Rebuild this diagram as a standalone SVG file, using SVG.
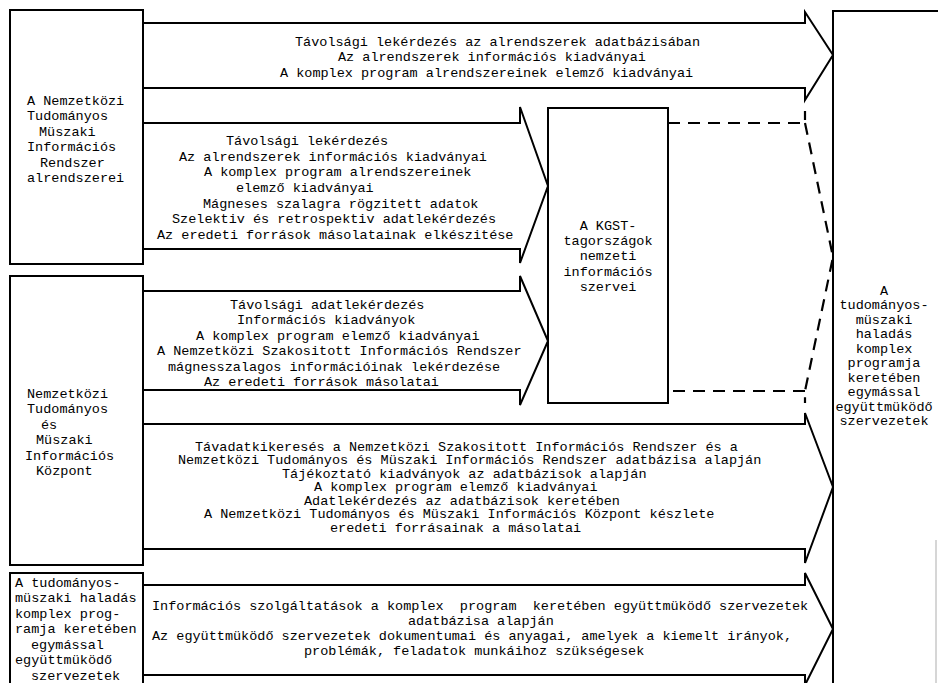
<svg xmlns="http://www.w3.org/2000/svg" width="938" height="683" viewBox="0 0 938 683">
<style>
.box{fill:none;stroke:#000;stroke-width:2}
.arr{fill:none;stroke:#000;stroke-width:2;stroke-linejoin:miter}
.dash{fill:none;stroke:#000;stroke-width:2.2;stroke-dasharray:12 8}
text{font-family:"Liberation Mono","DejaVu Sans Mono",monospace;font-size:13.5px;fill:#000}
</style>
<rect x="0" y="0" width="938" height="683" fill="#fff"/>
<g id="connectors">
  <g id="arrow1">
    <path class="arr" d="M143,23 H805 V12 L833,55 L805,100 V88 H143"/>
    <text x="295" y="45.5">Távolsági lekérdezés az alrendszerek adatbázisában</text>
    <text x="338" y="60.5">Az alrendszerek információs kiadványai</text>
    <text x="280" y="76.5">A komplex program alrendszereinek elemző kiadványai</text>
  </g>
  <g id="arrow2">
    <path class="arr" d="M143,123 H520 V107 L548,186 L520,263 V249 H143"/>
    <text x="226" y="144.5">Távolsági lekérdezés</text>
    <text x="179" y="160.5">Az alrendszerek információs kiadványai</text>
    <text x="204" y="176">A komplex program alrendszereinek</text>
    <text x="236" y="191.5">elemző kiadványai</text>
    <text x="203" y="207.5">Mágneses szalagra rögzitett adatok</text>
    <text x="172" y="223">Szelektiv és retrospektiv adatlekérdezés</text>
    <text x="157" y="238.5">Az eredeti források másolatainak elkészitése</text>
  </g>
  <g id="arrow3">
    <path class="arr" d="M143,291 H520 V276 L548,341 L520,405 V390 H143"/>
    <text x="230" y="308.5">Távolsági adatlekérdezés</text>
    <text x="237" y="324">Információs kiadványok</text>
    <text x="196" y="339.5">A komplex program elemző kiadványai</text>
    <text x="157" y="355">A Nemzetközi Szakositott Információs Rendszer</text>
    <text x="168" y="370.5">mágnesszalagos információinak lekérdezése</text>
    <text x="204" y="386">Az eredeti források másolatai</text>
  </g>
  <g id="arrow-dashed">
    <path class="dash" d="M668,123 H805 V111 M805,123 L833,257 L805,391 V403 M805,391 H668"/>
  </g>
  <g id="arrow4">
    <path class="arr" d="M143,424 H805 V413 L833,487 L805,563 V549 H143"/>
    <text x="195" y="450.5">Távadatkikeresés a Nemzetközi Szakositott Információs Rendszer és a</text>
    <text x="178" y="464">Nemzetközi Tudományos és Müszaki Információs Rendszer adatbázisa alapján</text>
    <text x="282" y="477.5">Tájékoztató kiadványok az adatbázisok alapján</text>
    <text x="314" y="491">A komplex program elemző kiadványai</text>
    <text x="304" y="504.5">Adatlekérdezés az adatbázisok keretében</text>
    <text x="204" y="518">A Nemzetközi Tudományos és Müszaki Információs Központ készlete</text>
    <text x="330" y="531.5">eredeti forrásainak a másolatai</text>
  </g>
  <g id="arrow5">
    <path class="arr" d="M143,585 H805 V573 L833,629 L805,685 V675 H143"/>
    <text x="152" y="609.5" xml:space="preserve">Információs szolgáltatások a komplex  program  keretében együttmüködő szervezetek</text>
    <text x="408" y="624.5">adatbázisa alapján</text>
    <text x="152" y="639.5">Az együttmüködő szervezetek dokumentumai és anyagai, amelyek a kiemelt irányok,</text>
    <text x="304" y="654.5">problémák, feladatok munkáihoz szükségesek</text>
  </g>
</g>
<g id="node-alrendszerek">
  <rect class="box" x="10" y="10" width="133" height="254"/>
  <text x="27" y="104.5">A Nemzetközi</text>
  <text x="27" y="120">Tudományos</text>
  <text x="39" y="135.5">Müszaki</text>
  <text x="27" y="151">Információs</text>
  <text x="40" y="166.5">Rendszer</text>
  <text x="27" y="182">alrendszerei</text>
</g>
<g id="node-kozpont">
  <rect class="box" x="10" y="276" width="133" height="289"/>
  <text x="27" y="397.5">Nemzetközi</text>
  <text x="27" y="413">Tudományos</text>
  <text x="41" y="428.5">és</text>
  <text x="36" y="444">Müszaki</text>
  <text x="25" y="459.5">Információs</text>
  <text x="36" y="475">Központ</text>
</g>
<g id="node-szervezetek-bal">
  <path class="box" d="M10,690 V573 H143 V690"/>
  <text x="15" y="586.5">A tudományos-</text>
  <text x="15" y="602">müszaki haladás</text>
  <text x="15" y="617.5">komplex prog-</text>
  <text x="15" y="633">ramja keretében</text>
  <text x="31" y="648.5">egymással</text>
  <text x="15" y="664">együttmüködő</text>
  <text x="31" y="679.5">szervezetek</text>
</g>
<g id="node-kgst">
  <rect class="box" x="548" y="108" width="120" height="295"/>
  <text x="608" y="229.5" text-anchor="middle">A KGST-</text>
  <text x="608" y="244.5" text-anchor="middle">tagországok</text>
  <text x="608" y="260" text-anchor="middle">nemzeti</text>
  <text x="608" y="275.5" text-anchor="middle">információs</text>
  <text x="608" y="291" text-anchor="middle">szervei</text>
</g>
<g id="node-szervezetek-jobb">
  <path class="box" d="M940,11 H833 V690"/>
  <line x1="936" y1="540" x2="936" y2="683" stroke="#c8c8c8" stroke-width="1.5"/>
  <text x="884" y="294.5" text-anchor="middle">A</text>
  <text x="884" y="309" text-anchor="middle">tudományos-</text>
  <text x="884" y="323.5" text-anchor="middle">müszaki</text>
  <text x="884" y="338" text-anchor="middle">haladás</text>
  <text x="884" y="352.5" text-anchor="middle">komplex</text>
  <text x="884" y="367" text-anchor="middle">programja</text>
  <text x="884" y="381.5" text-anchor="middle">keretében</text>
  <text x="884" y="396" text-anchor="middle">egymással</text>
  <text x="884" y="410.5" text-anchor="middle">együttmüködő</text>
  <text x="884" y="425" text-anchor="middle">szervezetek</text>
</g>
</svg>
